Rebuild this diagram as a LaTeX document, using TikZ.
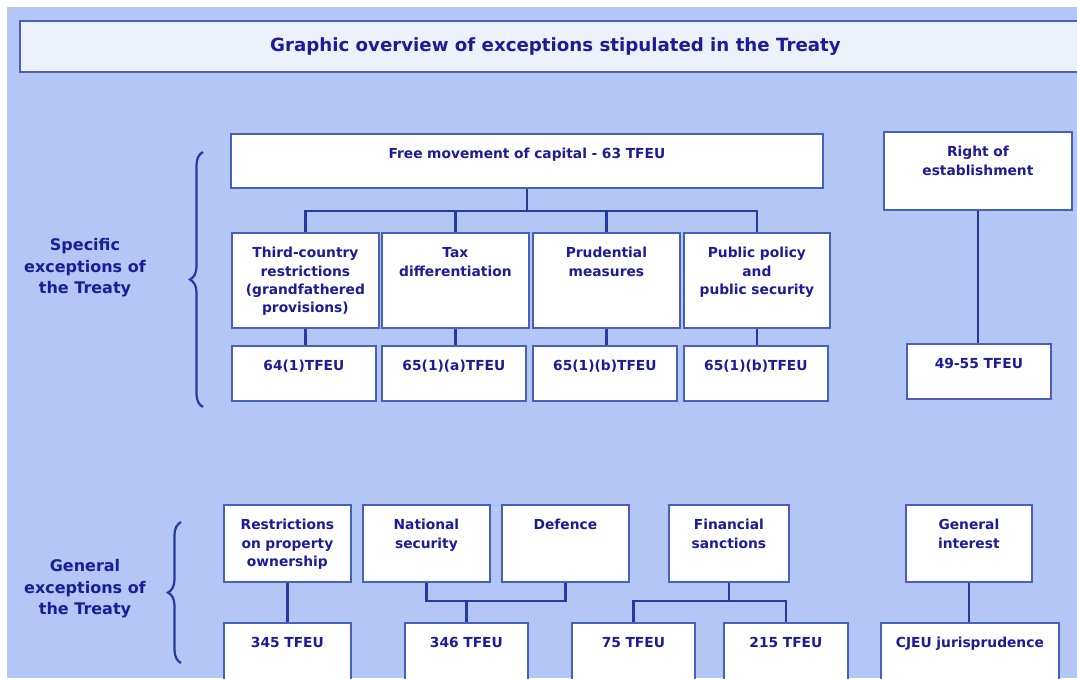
\documentclass[tikz,border=0pt]{standalone}
\usepackage{fontspec}
\setmainfont{DejaVu Sans}
\usetikzlibrary{positioning, decorations.pathreplacing}

\definecolor{bgblue}{RGB}{179,198,246}
\definecolor{titlefill}{RGB}{237,241,252}
\definecolor{frameblue}{RGB}{72,96,186}
\definecolor{linkblue}{RGB}{38,58,160}
\definecolor{inkblue}{RGB}{28,28,150}

\begin{document}
\begin{tikzpicture}[
    x=1pt, y=-1pt,
    % Styles
    exbox/.style={draw=frameblue, fill=white, line width=1.8pt, anchor=north west, text=inkblue, font=\bfseries\fontsize{13.8}{18.3}\selectfont, align=center, inner xsep=0pt, inner ysep=0pt, text height=25pt},
    titlebox/.style={draw=frameblue, fill=titlefill, line width=1.8pt, anchor=north west, inner sep=0pt, text=inkblue, font=\bfseries\fontsize{18.2}{21}\selectfont},
    link/.style={draw=linkblue, line width=2.2pt},
    sidelabel/.style={text=inkblue, font=\bfseries\fontsize{16}{21.5}\selectfont, align=center},
    curly/.style={draw=linkblue, line width=2.2pt, decorate, decoration={brace, amplitude=13pt}},
]

% Page and background
\fill[white] (0,0) rectangle (1077,678);
\fill[bgblue] (7,7) rectangle (1077,678);
\useasboundingbox (0,0) rectangle (1077,678);

% Title
\node[titlebox, minimum width=1071pt, minimum height=51pt] (title) at (19,20) {Graphic overview of exceptions stipulated in the Treaty};

% Specific exceptions
\node[sidelabel] (speclbl) at (85,268) {Specific\\exceptions of\\the Treaty};
\draw[curly] (203,407) -- (203,152);

\node[exbox, text width=592pt, text depth=29pt] (fmc) at (230,133) {Free movement of capital - 63 TFEU};

\node[exbox, text width=147pt, text depth=70pt] (third) at (231,232) {Third-country\\restrictions\\(grandfathered\\provisions)};
\node[exbox, text width=147pt, text depth=70pt] (tax) at (381,232) {Tax\\differentiation};
\node[exbox, text width=147pt, text depth=70pt] (prud) at (532,232) {Prudential\\measures};
\node[exbox, text width=146pt, text depth=70pt] (pub) at (683,232) {Public policy\\and\\public security};

\node[exbox, text width=144pt, text depth=30pt, below=16pt of third.south west, anchor=north west] (a64) {64(1)TFEU};
\node[exbox, text width=144pt, text depth=30pt, below=16pt of tax.south west, anchor=north west] (a65a) {65(1)(a)TFEU};
\node[exbox, text width=144pt, text depth=30pt, below=16pt of prud.south west, anchor=north west] (a65b) {65(1)(b)TFEU};
\node[exbox, text width=144pt, text depth=30pt, below=16pt of pub.south west, anchor=north west] (a65p) {65(1)(b)TFEU};

\draw[link] (fmc.south) -- ++(0,22) -| (third.north);
\draw[link] (fmc.south) -- ++(0,22) -| (tax.north);
\draw[link] (fmc.south) -- ++(0,22) -| (prud.north);
\draw[link] (fmc.south) -- ++(0,22) -| (pub.north);

\draw[link] (third.south) -- (third.south |- a64.north);
\draw[link] (tax.south) -- (tax.south |- a65a.north);
\draw[link] (prud.south) -- (prud.south |- a65b.north);
\draw[link] (pub.south) -- (pub.south |- a65p.north);

% Right of establishment
\node[exbox, text width=188pt, text depth=53pt] (roe) at (883,131) {Right of\\establishment};
\node[exbox, text width=144pt, text depth=30pt] (a49) at (906,343) {49-55 TFEU};
\draw[link] (roe.south) -- (roe.south |- a49.north);

% General exceptions
\node[sidelabel] (genlbl) at (85,589) {General\\exceptions of\\the Treaty};
\draw[curly] (181,663) -- (181,522);

\node[exbox, text width=127pt, text depth=52pt] (rpo) at (223,504) {Restrictions\\on property\\ownership};
\node[exbox, text width=127pt, text depth=52pt] (natsec) at (362,504) {National\\security};
\node[exbox, text width=127pt, text depth=52pt] (defence) at (501,504) {Defence};
\node[exbox, text width=120pt, text depth=52pt] (finsan) at (668,504) {Financial\\sanctions};
\node[exbox, text width=126pt, text depth=52pt] (genint) at (905,504) {General\\interest};

\node[exbox, text width=127pt, text depth=46pt] (a345) at (223,622) {345 TFEU};
\node[exbox, text width=123pt, text depth=46pt] (a346) at (404,622) {346 TFEU};
\node[exbox, text width=123pt, text depth=46pt] (a75) at (571,622) {75 TFEU};
\node[exbox, text width=124pt, text depth=46pt] (a215) at (723,622) {215 TFEU};
\node[exbox, text width=178pt, text depth=46pt] (cjeu) at (880,622) {CJEU jurisprudence};

\draw[link] (rpo.south) -- (rpo.south |- a345.north);

\coordinate (secjoin) at (a346.north |- 0,601);
\draw[link] (natsec.south) |- (secjoin) -| (defence.south);
\draw[link] (secjoin) -- (a346.north);

\coordinate (finjoin) at (finsan.south |- secjoin);
\draw[link] (finsan.south) -- (finjoin);
\draw[link] (a75.north) |- (finjoin) -| (a215.north);

\draw[link] (genint.south) -- (genint.south |- cjeu.north);

\end{tikzpicture}
\end{document}
